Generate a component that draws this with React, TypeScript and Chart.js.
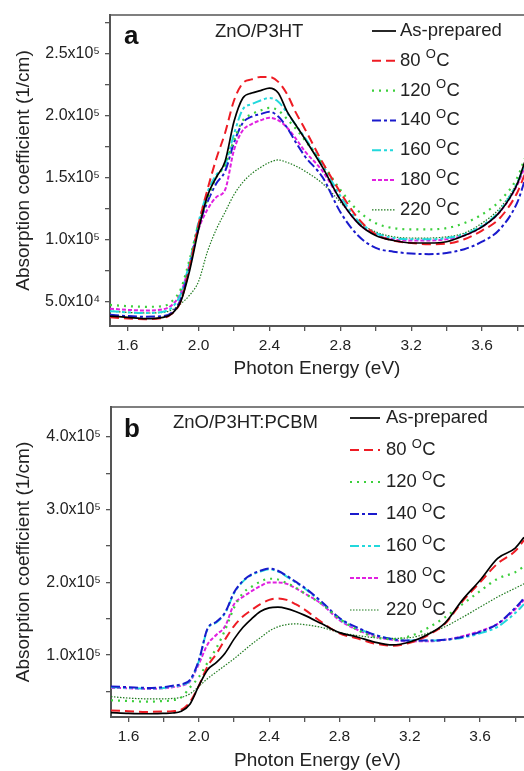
import React, { useEffect, useRef } from 'react';
import { Chart, registerables } from 'chart.js';

Chart.register(...registerables);

const FONT = "'Liberation Sans', Arial, Helvetica, sans-serif";

// ---------- Data (panel a: ZnO/P3HT) ----------
const X_A = [1.50, 1.60, 1.70, 1.80, 1.85, 1.90, 1.95, 2.00, 2.05, 2.10, 2.15, 2.20, 2.25, 2.30, 2.35, 2.40, 2.45, 2.50, 2.55, 2.60, 2.70, 2.80, 2.90, 3.00, 3.10, 3.20, 3.30, 3.40, 3.50, 3.60, 3.70, 3.80, 3.84];
const A_ASPREP = [38000, 37000, 36000, 37000, 40000, 50000, 75000, 108000, 135000, 150000, 163000, 195000, 214000, 218000, 220000, 222000, 218000, 203000, 192000, 181000, 158000, 132000, 113000, 103000, 99000, 97000, 97000, 98000, 103000, 110000, 122000, 145000, 162000];
const A_80 = [37000, 36000, 35500, 36500, 40000, 50000, 78000, 112000, 140000, 165000, 186000, 212000, 226000, 229000, 231000, 231000, 227000, 217000, 202000, 189000, 162000, 138000, 117000, 104000, 99000, 97000, 96000, 96500, 100000, 107000, 117000, 138000, 152000];
const A_120 = [47000, 46000, 45500, 46000, 50000, 60000, 84000, 112000, 132000, 150000, 160000, 180000, 196000, 201000, 204000, 206000, 204000, 197000, 189000, 180000, 161000, 140000, 123000, 113000, 109000, 108000, 108000, 109000, 113000, 120000, 131000, 150000, 165000];
const A_140 = [39000, 38000, 37500, 38000, 41000, 52000, 78000, 110000, 130000, 145000, 155000, 178000, 194000, 199000, 201000, 203000, 199000, 190000, 178000, 167000, 150000, 122000, 103000, 93000, 90000, 88500, 88000, 89000, 92000, 98000, 108000, 130000, 147000];
const A_160 = [42000, 41000, 40500, 41500, 45000, 56000, 82000, 114000, 138000, 152000, 160000, 185000, 205000, 209000, 212000, 214000, 211000, 202000, 192000, 182000, 160000, 135000, 115000, 105000, 101000, 100000, 100000, 101000, 104000, 111000, 123000, 146000, 160000];
const A_180 = [44000, 43000, 42500, 43500, 47000, 57000, 80000, 108000, 124000, 134000, 140000, 172000, 188000, 193000, 196000, 198000, 196000, 190000, 181000, 171000, 155000, 132000, 113000, 104000, 100000, 99000, 99000, 100000, 103000, 110000, 122000, 144000, 158000];
const A_220 = [42000, 41000, 40500, 41000, 43000, 48000, 55000, 66000, 90000, 108000, 122000, 136000, 146000, 153000, 158000, 162000, 164000, 162000, 159000, 155000, 145000, 130000, 114000, 106000, 102000, 101000, 101000, 102000, 105000, 113000, 125000, 146000, 160000];

// ---------- Data (panel b: ZnO/P3HT:PCBM) ----------
const X_B = [1.50, 1.60, 1.70, 1.80, 1.85, 1.90, 1.95, 2.00, 2.05, 2.10, 2.15, 2.20, 2.25, 2.30, 2.35, 2.40, 2.45, 2.50, 2.55, 2.60, 2.70, 2.80, 2.90, 3.00, 3.10, 3.20, 3.30, 3.40, 3.50, 3.60, 3.70, 3.80, 3.85];
const B_ASPREP = [21000, 20000, 19500, 20000, 20500, 23000, 33000, 58000, 80000, 90000, 103000, 122000, 138000, 150000, 160000, 165000, 166000, 164000, 160000, 155000, 143000, 131000, 125000, 118000, 114000, 118000, 128000, 144000, 176000, 203000, 233000, 247000, 262000];
const B_80 = [24000, 23000, 22000, 22500, 23000, 25000, 36000, 58000, 85000, 102000, 122000, 140000, 153000, 162000, 170000, 176000, 178000, 176000, 170000, 163000, 145000, 130000, 123000, 116000, 113000, 117000, 127000, 143000, 174000, 200000, 226000, 243000, 258000];
const B_120 = [38000, 37000, 36000, 37000, 38000, 42000, 56000, 70000, 90000, 110000, 135000, 165000, 185000, 194000, 201000, 205000, 204000, 199000, 193000, 185000, 170000, 150000, 135000, 125000, 122000, 126000, 137000, 152000, 170000, 188000, 205000, 214000, 222000];
const B_140 = [57000, 56000, 55000, 56000, 58000, 60000, 66000, 93000, 137000, 146000, 159000, 186000, 202000, 211000, 216000, 219000, 216000, 209000, 201000, 193000, 173000, 151000, 138000, 128000, 122000, 120000, 120000, 121000, 125000, 132000, 143000, 165000, 178000];
const B_160 = [56000, 55000, 54000, 55000, 57000, 59000, 65000, 92000, 136000, 145000, 158000, 185000, 201000, 210000, 215000, 218000, 215000, 208000, 200000, 192000, 172000, 150000, 137000, 128000, 122000, 120000, 120000, 121000, 124000, 130000, 139000, 158000, 170000];
const B_180 = [55000, 54500, 53500, 54500, 56000, 58000, 64000, 88000, 115000, 128000, 140000, 170000, 180000, 188000, 195000, 200000, 200000, 198000, 192000, 185000, 170000, 148000, 135000, 126000, 121000, 119000, 119000, 121000, 126000, 133000, 143000, 163000, 176000];
const B_220 = [43000, 41000, 40000, 40000, 40500, 42000, 47000, 57000, 68000, 77000, 86000, 95000, 105000, 115000, 124000, 133000, 139000, 142000, 143000, 142000, 138000, 131000, 127000, 124000, 123000, 124000, 130000, 139000, 152000, 166000, 180000, 192000, 198000];

// ---------- Ticks ----------
const X_TICKS = [1.6, 1.8, 2.0, 2.2, 2.4, 2.6, 2.8, 3.0, 3.2, 3.4, 3.6, 3.8];
const X_LABELED = [1.6, 2.0, 2.4, 2.8, 3.2, 3.6];
const Y_TICKS_A = [50000, 75000, 100000, 125000, 150000, 175000, 200000, 225000, 250000, 275000];
const Y_LABELS_A = ['5.0x10\u2074', '', '1.0x10\u2075', '', '1.5x10\u2075', '', '2.0x10\u2075', '', '2.5x10\u2075', ''];
const Y_TICKS_B = [50000, 100000, 150000, 200000, 250000, 300000, 350000, 400000];
const Y_LABELS_B = ['', '1.0x10\u2075', '', '2.0x10\u2075', '', '3.0x10\u2075', '', '4.0x10\u2075'];

// ---------- Labels ----------
const SERIES_NAMES = ['As-prepared', '80', '120', '140', '160', '180', '220'];
const X_TITLE = 'Photon Energy (eV)';
const Y_TITLE = 'Absorption coefficient (1/cm)';
const TITLE_A = 'ZnO/P3HT';
const TITLE_B = 'ZnO/P3HT:PCBM';

// ---------- Styles ----------
const COLORS = ['#000000', '#ee1c24', '#3ccf3c', '#1a1acc', '#22d8dc', '#e020e0', '#1f7a1f'];
const DASHES: number[][] = [[], [9, 5], [2, 5], [9, 3, 3, 3], [9, 3, 3, 3, 3, 3], [4, 2], [1.5, 1.5]];
const WIDTHS = [1.7, 2, 2.2, 2, 2, 2, 1.2];
const AXIS_COLOR = '#555555';
const TEXT_COLOR = '#222222';

type Spec = {
  xs: number[];
  series: number[][];
  xMax: number;
  yMin: number;
  yMax: number;
  yTicks: number[];
  yLabels: string[];
  top: number;
  canvasH: number;
  padTop: number;
  yAxisW: number;
  xAxisH: number;
  xTitlePadBottom: number;
  letter: string;
  letterX: number;
  letterBase: number;
  title: string;
  titleX: number;
  titleBase: number;
  legLine0: number;
  legLine1: number;
  legText: number;
  legBase0: number;
  legStep: number;
};

const SPEC_A: Spec = {
  xs: X_A,
  series: [A_ASPREP, A_80, A_120, A_140, A_160, A_180, A_220],
  xMax: 3.837,
  yMin: 30000,
  yMax: 281000,
  yTicks: Y_TICKS_A,
  yLabels: Y_LABELS_A,
  top: 0,
  canvasH: 385,
  padTop: 15,
  yAxisW: 110,
  xAxisH: 59,
  xTitlePadBottom: 6.5,
  letter: 'a',
  letterX: 124,
  letterBase: 44,
  title: TITLE_A,
  titleX: 215,
  titleBase: 37,
  legLine0: 372,
  legLine1: 396,
  legText: 400,
  legBase0: 36,
  legStep: 29.8,
};

const SPEC_B: Spec = {
  xs: X_B,
  series: [B_ASPREP, B_80, B_120, B_140, B_160, B_180, B_220],
  xMax: 3.85,
  yMin: 15000,
  yMax: 441000,
  yTicks: Y_TICKS_B,
  yLabels: Y_LABELS_B,
  top: 385,
  canvasH: 386,
  padTop: 22,
  yAxisW: 111,
  xAxisH: 54,
  xTitlePadBottom: 0.5,
  letter: 'b',
  letterX: 124,
  letterBase: 52,
  title: TITLE_B,
  titleX: 173,
  titleBase: 43,
  legLine0: 350,
  legLine1: 380,
  legText: 386,
  legBase0: 38,
  legStep: 32,
};

function xLabel(v: number): string {
  const hit = X_LABELED.find((t) => Math.abs(t - v) < 1e-6);
  return hit !== undefined ? hit.toFixed(1) : '';
}

function makeDecor(spec: Spec) {
  return {
    id: 'decor',
    afterDraw(chart: any) {
      const { ctx, chartArea: ca } = chart;
      ctx.save();
      ctx.strokeStyle = AXIS_COLOR;
      ctx.lineWidth = 1.5;
      ctx.setLineDash([]);
      ctx.beginPath();
      ctx.moveTo(ca.left, ca.top);
      ctx.lineTo(ca.right, ca.top);
      ctx.stroke();

      ctx.textAlign = 'left';
      ctx.textBaseline = 'alphabetic';
      ctx.fillStyle = '#111111';
      ctx.font = `bold 26px ${FONT}`;
      ctx.fillText(spec.letter, spec.letterX, spec.letterBase);

      ctx.font = `18.5px ${FONT}`;
      ctx.fillStyle = TEXT_COLOR;
      ctx.fillText(spec.title, spec.titleX, spec.titleBase);

      SERIES_NAMES.forEach((name, i) => {
        const base = spec.legBase0 + i * spec.legStep;
        const ly = base - 5;
        ctx.strokeStyle = COLORS[i];
        ctx.lineWidth = WIDTHS[i];
        ctx.setLineDash(DASHES[i]);
        ctx.beginPath();
        ctx.moveTo(spec.legLine0, ly);
        ctx.lineTo(spec.legLine1, ly);
        ctx.stroke();
        ctx.setLineDash([]);
        ctx.fillStyle = TEXT_COLOR;
        const big = `18.5px ${FONT}`;
        const small = `13px ${FONT}`;
        ctx.font = big;
        if (i === 0) {
          ctx.fillText(name, spec.legText, base);
        } else {
          const head = name + ' ';
          ctx.fillText(head, spec.legText, base);
          const w1 = ctx.measureText(head).width;
          ctx.font = small;
          ctx.fillText('O', spec.legText + w1, base - 7.5);
          const w2 = ctx.measureText('O').width;
          ctx.font = big;
          ctx.fillText('C', spec.legText + w1 + w2 + 0.5, base);
        }
      });
      ctx.restore();
    },
  };
}

function Panel({ spec }: { spec: Spec }) {
  const ref = useRef<HTMLCanvasElement>(null);
  useEffect(() => {
    const canvas = ref.current;
    if (!canvas) return;
    const datasets = spec.series.map((ys, i) => ({
      label: SERIES_NAMES[i],
      data: spec.xs.map((x, j) => ({ x, y: ys[j] })),
      borderColor: COLORS[i],
      borderWidth: WIDTHS[i],
      borderDash: DASHES[i],
      pointRadius: 0,
      fill: false,
      cubicInterpolationMode: 'monotone' as const,
    }));
    const chart = new Chart(canvas, {
      type: 'line',
      data: { datasets },
      options: {
        responsive: false,
        maintainAspectRatio: false,
        animation: false,
        devicePixelRatio: 1,
        layout: { padding: { top: spec.padTop, right: 0, bottom: 0, left: 0 } },
        plugins: { legend: { display: false }, tooltip: { enabled: false }, title: { display: false } },
        scales: {
          x: {
            type: 'linear',
            min: 1.5,
            max: spec.xMax,
            afterBuildTicks: (s: any) => { s.ticks = X_TICKS.map((v) => ({ value: v })); },
            afterFit: (s: any) => { s.height = spec.xAxisH; },
            ticks: {
              autoSkip: false,
              maxRotation: 0,
              padding: 5,
              color: TEXT_COLOR,
              font: { family: FONT, size: 15.5 },
              callback: (v: any) => xLabel(Number(v)),
            },
            grid: { drawOnChartArea: false, drawTicks: true, tickLength: 5, color: AXIS_COLOR, lineWidth: 1.3 },
            border: { display: true, color: AXIS_COLOR, width: 2 },
            title: {
              display: true,
              text: X_TITLE,
              color: TEXT_COLOR,
              font: { family: FONT, size: 19, lineHeight: 1 },
              padding: { top: 0, bottom: spec.xTitlePadBottom },
            },
          },
          y: {
            type: 'linear',
            min: spec.yMin,
            max: spec.yMax,
            afterBuildTicks: (s: any) => { s.ticks = spec.yTicks.map((v) => ({ value: v })); },
            afterFit: (s: any) => { s.width = spec.yAxisW; },
            ticks: {
              autoSkip: false,
              padding: 5,
              color: TEXT_COLOR,
              font: { family: FONT, size: 16 },
              callback: (_v: any, idx: number) => spec.yLabels[idx] ?? '',
            },
            grid: { drawOnChartArea: false, drawTicks: true, tickLength: 5, color: AXIS_COLOR, lineWidth: 1.3 },
            border: { display: true, color: AXIS_COLOR, width: 2 },
            title: {
              display: true,
              text: Y_TITLE,
              color: TEXT_COLOR,
              font: { family: FONT, size: 19, lineHeight: 1 },
              padding: { top: 14, bottom: 0 },
            },
          },
        },
      },
      plugins: [makeDecor(spec)],
    } as any);
    return () => chart.destroy();
  }, [spec]);
  return (
    <canvas
      ref={ref}
      width={524}
      height={spec.canvasH}
      style={{ position: 'absolute', left: 0, top: spec.top, width: 524, height: spec.canvasH }}
    />
  );
}

export default function App() {
  return (
    <div style={{ position: 'absolute', left: 0, top: 0, width: 524, height: 771, overflow: 'hidden', background: '#ffffff' }}>
      <Panel spec={SPEC_A} />
      <Panel spec={SPEC_B} />
    </div>
  );
}
